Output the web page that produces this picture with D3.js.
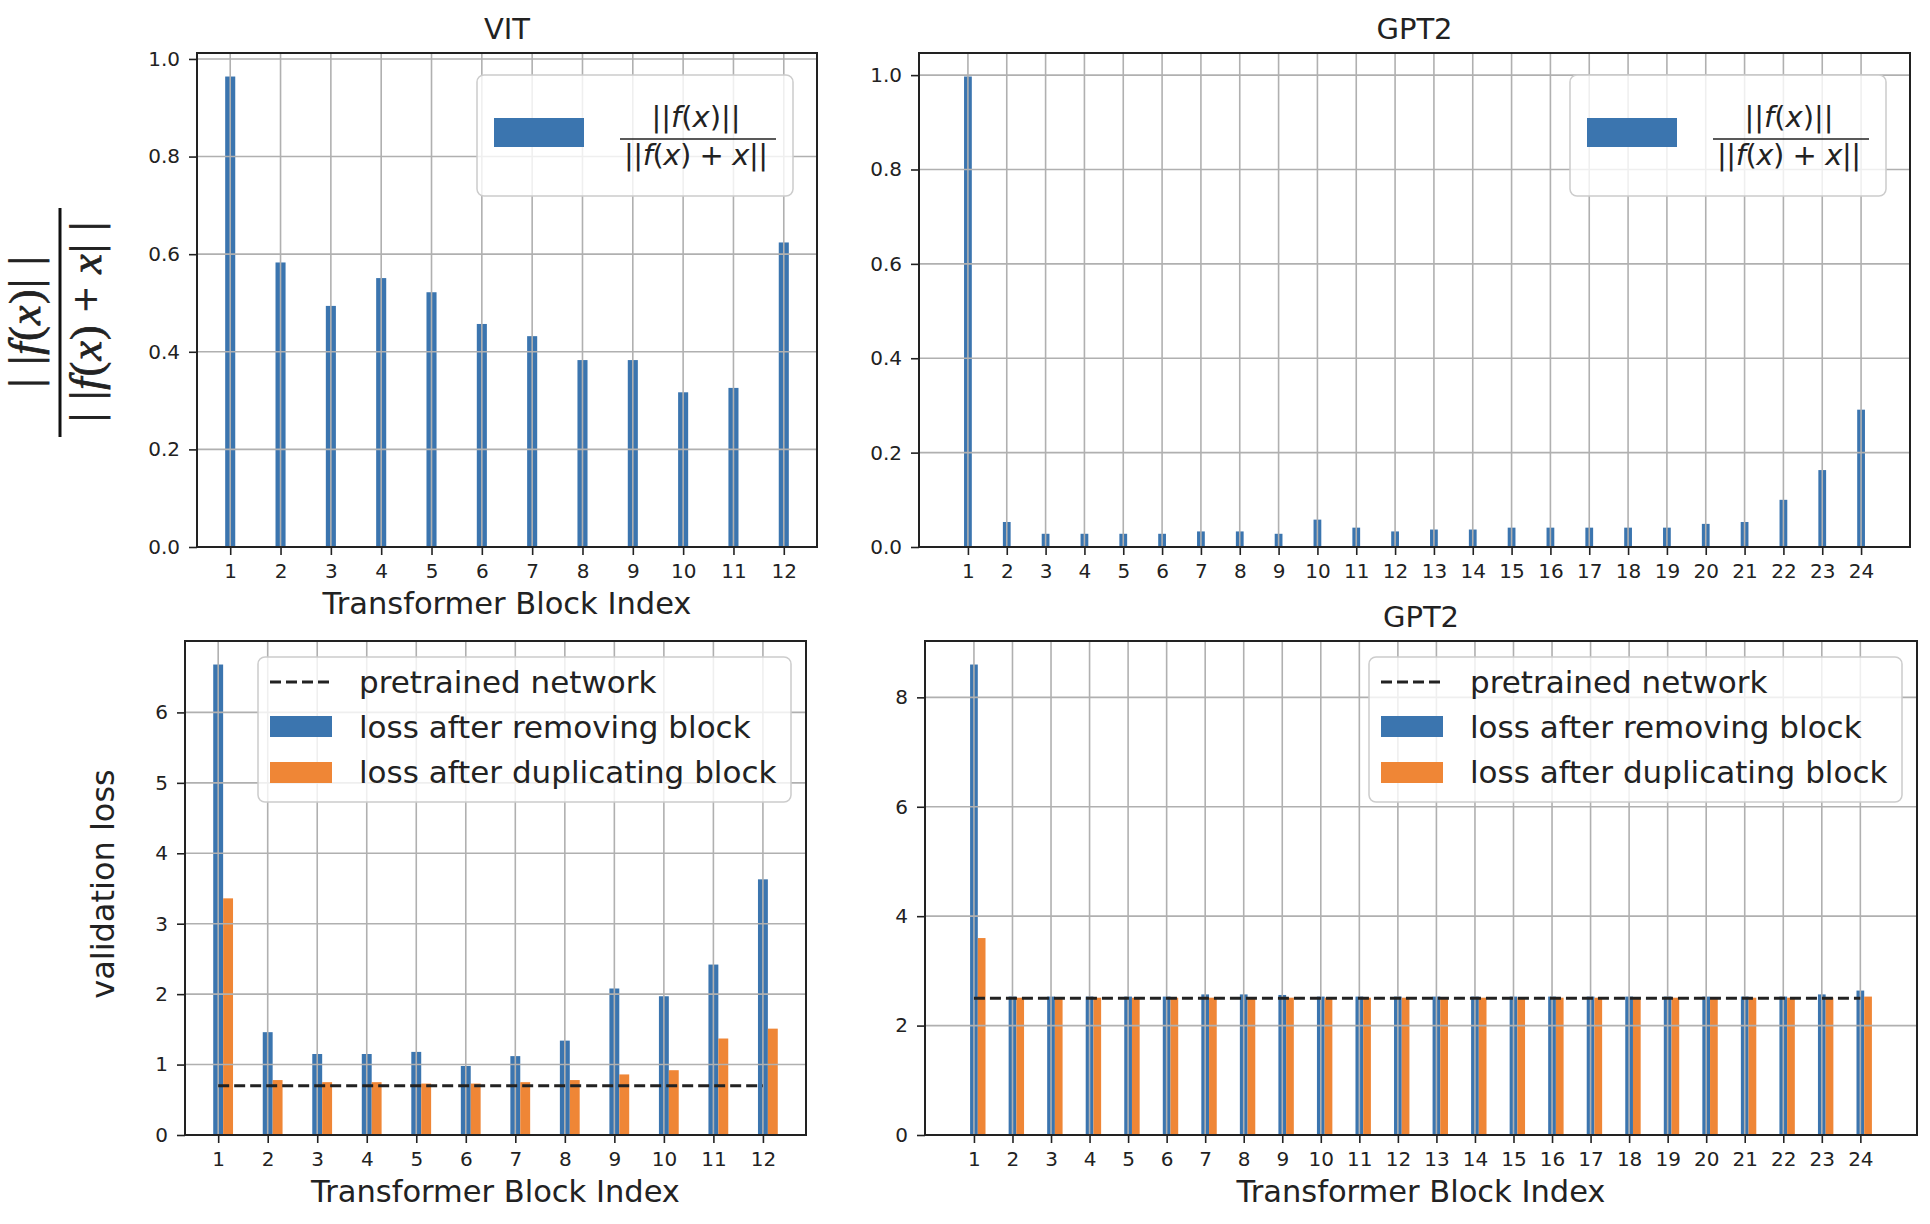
<!DOCTYPE html>
<html>
<head>
<meta charset="utf-8">
<title>block ratio and validation loss</title>
<script src="https://cdn.jsdelivr.net/npm/d3@7"></script>
<style>
  body { margin: 0; background: #fff; }
  text { font-family: "DejaVu Sans", sans-serif; fill: #222; }
</style>
</head>
<body>
<div id="chart"></div>
<script>
// block indices (x categories)
var vitBlocks = [1, 2, 3, 4, 5, 6, 7, 8, 9, 10, 11, 12];
var gptBlocks = [1, 2, 3, 4, 5, 6, 7, 8, 9, 10, 11, 12, 13, 14, 15, 16, 17, 18, 19, 20, 21, 22, 23, 24];

// ||f(x)|| / ||f(x)+x||
var vitRatio = [0.964, 0.583, 0.494, 0.551, 0.522, 0.457, 0.432, 0.383, 0.383, 0.317, 0.326, 0.624];
var gptRatio = [0.997, 0.053, 0.028, 0.028, 0.028, 0.028, 0.033, 0.033, 0.028, 0.058, 0.041, 0.033,
                0.037, 0.037, 0.041, 0.041, 0.041, 0.041, 0.041, 0.049, 0.053, 0.100, 0.163, 0.291];

// validation loss
var vitRemoveLoss    = [6.68, 1.46, 1.15, 1.15, 1.18, 0.98, 1.12, 1.34, 2.08, 1.97, 2.42, 3.63];
var vitDuplicateLoss = [3.36, 0.78, 0.75, 0.75, 0.73, 0.73, 0.75, 0.78, 0.86, 0.92, 1.37, 1.51];
var vitPretrained = 0.70;
var gptRemoveLoss    = [8.60, 2.53, 2.53, 2.53, 2.53, 2.53, 2.57, 2.57, 2.56, 2.53, 2.53, 2.53,
                        2.53, 2.53, 2.53, 2.53, 2.53, 2.53, 2.53, 2.53, 2.53, 2.53, 2.57, 2.64];
var gptDuplicateLoss = [3.60, 2.51, 2.51, 2.51, 2.51, 2.51, 2.51, 2.51, 2.51, 2.51, 2.51, 2.51,
                        2.51, 2.51, 2.51, 2.51, 2.51, 2.51, 2.51, 2.51, 2.51, 2.51, 2.51, 2.53];
var gptPretrained = 2.50;

// y tick values
var ratioTicks = [0, 0.2, 0.4, 0.6, 0.8, 1.0];
var vitLossTicks = [0, 1, 2, 3, 4, 5, 6];
var gptLossTicks = [0, 2, 4, 6, 8];

var legendLabels = ["pretrained network", "loss after removing block", "loss after duplicating block"];

var BLUE = "#3b75af", ORANGE = "#ef8636", INK = "#222", GRID = "#b0b0b0";

var svg = d3.select("#chart").append("svg").attr("width", 1930).attr("height", 1224);

function panel(p) {
  var barW = 0.2;
  var lastOff = d3.max(p.series, function(s) { return s.offset; });
  var lo = p.cats[0] - barW / 2, hi = p.cats[p.cats.length - 1] + lastOff + barW / 2;
  var pad = (hi - lo) * 0.05;
  var x = d3.scaleLinear().domain([lo - pad, hi + pad]).range([p.left, p.right]);
  var yMax = d3.max(p.series, function(s) { return d3.max(s.values); }) * 1.05;
  var y = d3.scaleLinear().domain([0, yMax]).range([p.bottom, p.top]);
  var g = svg.append("g");

  // bars
  p.series.forEach(function(s) {
    g.append("g").selectAll("rect").data(s.values).enter().append("rect")
      .attr("x", function(d, i) { return x(p.cats[i] + s.offset - barW / 2); })
      .attr("width", x(barW) - x(0))
      .attr("y", function(d) { return y(d); })
      .attr("height", function(d) { return y(0) - y(d); })
      .attr("fill", s.color);
  });

  // grid sits above the bars, like matplotlib
  g.append("g").selectAll("line").data(p.cats).enter().append("line")
    .attr("x1", function(d) { return x(d); }).attr("x2", function(d) { return x(d); })
    .attr("y1", p.top).attr("y2", p.bottom)
    .attr("stroke", GRID).attr("stroke-width", 1.6);
  g.append("g").selectAll("line").data(p.yTicks).enter().append("line")
    .attr("x1", p.left).attr("x2", p.right)
    .attr("y1", function(d) { return y(d); }).attr("y2", function(d) { return y(d); })
    .attr("stroke", GRID).attr("stroke-width", 1.6);

  if (p.pretrained != null) {
    g.append("line")
      .attr("x1", x(p.cats[0])).attr("x2", x(p.cats[p.cats.length - 1]))
      .attr("y1", y(p.pretrained)).attr("y2", y(p.pretrained))
      .attr("stroke", INK).attr("stroke-width", 3).attr("stroke-dasharray", "11,5");
  }

  g.append("rect").attr("x", p.left).attr("y", p.top)
    .attr("width", p.right - p.left).attr("height", p.bottom - p.top)
    .attr("fill", "none").attr("stroke", INK).attr("stroke-width", 2);

  var ax = g.append("g").attr("transform", "translate(0," + p.bottom + ")")
    .call(d3.axisBottom(x).tickValues(p.cats).tickFormat(d3.format("d")).tickSize(8).tickPadding(9));
  var ay = g.append("g").attr("transform", "translate(" + p.left + ",0)")
    .call(d3.axisLeft(y).tickValues(p.yTicks).tickFormat(d3.format(p.yFmt)).tickSize(8).tickPadding(9));
  [ax, ay].forEach(function(a) {
    a.select(".domain").remove();
    a.attr("font-family", null).attr("font-size", null);
    a.selectAll(".tick line").attr("stroke", INK).attr("stroke-width", 1.6);
    a.selectAll(".tick text").style("font-size", "20px").style("fill", INK);
  });

  var cx = (p.left + p.right) / 2;
  if (p.title) {
    g.append("text").attr("x", cx).attr("y", p.top - 14).attr("text-anchor", "middle")
      .style("font-size", "29px").text(p.title);
  }
  if (p.xlabel) {
    g.append("text").attr("x", cx).attr("y", p.bottom + 67).attr("text-anchor", "middle")
      .style("font-size", "30.5px").text(p.xlabel);
  }

  if (p.legend === "ratio") ratioLegend(g, p.right - 24 - 316, p.top + 22);
  if (p.legend === "loss") lossLegend(g, p.right - 15 - 533, p.top + 16);
}

function mathRow(t, parts) {
  parts.forEach(function(s) {
    t.append("tspan").style("font-style", s[1] ? "italic" : "normal").text(s[0]);
  });
}

function ratioLegend(g, bx, by) {
  var L = g.append("g").attr("transform", "translate(" + bx + "," + by + ")");
  L.append("rect").attr("width", 316).attr("height", 121).attr("rx", 7)
    .attr("fill", "#fff").attr("fill-opacity", 0.8).attr("stroke", "#ccc").attr("stroke-width", 1.5);
  L.append("rect").attr("x", 17).attr("y", 43).attr("width", 90).attr("height", 29).attr("fill", BLUE);
  var num = L.append("text").attr("x", 219).attr("y", 52).attr("text-anchor", "middle").style("font-size", "29px");
  mathRow(num, [["||", 0], ["f", 1], ["(", 0], ["x", 1], [")||", 0]]);
  L.append("line").attr("x1", 143).attr("x2", 299).attr("y1", 64).attr("y2", 64)
    .attr("stroke", INK).attr("stroke-width", 1.4);
  var den = L.append("text").attr("x", 219).attr("y", 90).attr("text-anchor", "middle")
    .attr("textLength", 144).attr("lengthAdjust", "spacing").style("font-size", "29px");
  mathRow(den, [["||", 0], ["f", 1], ["(", 0], ["x", 1], [") + ", 0], ["x", 1], ["||", 0]]);
}

function lossLegend(g, bx, by) {
  var L = g.append("g").attr("transform", "translate(" + bx + "," + by + ")");
  L.append("rect").attr("width", 533).attr("height", 145).attr("rx", 7)
    .attr("fill", "#fff").attr("fill-opacity", 0.8).attr("stroke", "#ccc").attr("stroke-width", 1.5);
  L.append("line").attr("x1", 12).attr("x2", 74).attr("y1", 25).attr("y2", 25)
    .attr("stroke", INK).attr("stroke-width", 3).attr("stroke-dasharray", "11,5");
  L.append("rect").attr("x", 12).attr("y", 59).attr("width", 62).attr("height", 21).attr("fill", BLUE);
  L.append("rect").attr("x", 12).attr("y", 105).attr("width", 62).attr("height", 21).attr("fill", ORANGE);
  L.selectAll("text.lab").data(legendLabels).enter().append("text")
    .attr("x", 101).attr("y", function(d, i) { return 36 + i * 45; })
    .style("font-size", "31px").text(function(d) { return d; });
}

panel({ left: 197, right: 817, top: 53, bottom: 547, cats: vitBlocks,
        series: [{ values: vitRatio, offset: 0, color: BLUE }],
        yTicks: ratioTicks, yFmt: ".1f", title: "VIT", xlabel: "Transformer Block Index", legend: "ratio" });
panel({ left: 919, right: 1910, top: 53, bottom: 547, cats: gptBlocks,
        series: [{ values: gptRatio, offset: 0, color: BLUE }],
        yTicks: ratioTicks, yFmt: ".1f", title: "GPT2", legend: "ratio" });
panel({ left: 185, right: 806, top: 641, bottom: 1135, cats: vitBlocks,
        series: [{ values: vitRemoveLoss, offset: 0, color: BLUE }, { values: vitDuplicateLoss, offset: 0.2, color: ORANGE }],
        pretrained: vitPretrained, yTicks: vitLossTicks, yFmt: "d", xlabel: "Transformer Block Index", legend: "loss" });
panel({ left: 925, right: 1917, top: 641, bottom: 1135, cats: gptBlocks,
        series: [{ values: gptRemoveLoss, offset: 0, color: BLUE }, { values: gptDuplicateLoss, offset: 0.2, color: ORANGE }],
        pretrained: gptPretrained, yTicks: gptLossTicks, yFmt: "d", title: "GPT2", xlabel: "Transformer Block Index", legend: "loss" });

// y label of the top-left panel: the ratio written as a fraction, rotated
var yl = svg.append("g").attr("transform", "translate(60,322) rotate(-90)");
var ynum = yl.append("text").attr("x", 0).attr("y", -20).attr("text-anchor", "middle")
  .attr("textLength", 131).attr("lengthAdjust", "spacing")
  .style("font-family", "'Liberation Serif', serif").style("font-size", "44px")
  .attr("stroke", "#222").attr("stroke-width", 0.8);
mathRow(ynum, [["| |", 0], ["f", 1], ["(", 0], ["x", 1], [")| |", 0]]);
yl.append("line").attr("x1", -115).attr("x2", 114).attr("y1", 0).attr("y2", 0)
  .attr("stroke", "#111").attr("stroke-width", 3);
var yden = yl.append("text").attr("x", 0).attr("y", 41).attr("text-anchor", "middle")
  .attr("textLength", 200).attr("lengthAdjust", "spacing")
  .style("font-family", "'Liberation Serif', serif").style("font-size", "44px")
  .attr("stroke", "#222").attr("stroke-width", 0.8);
mathRow(yden, [["| |", 0], ["f", 1], ["(", 0], ["x", 1], [") + ", 0], ["x", 1], ["| |", 0]]);

svg.append("text").attr("transform", "translate(114,884) rotate(-90)")
  .attr("text-anchor", "middle").style("font-size", "32px").text("validation loss");
</script>
</body>
</html>
